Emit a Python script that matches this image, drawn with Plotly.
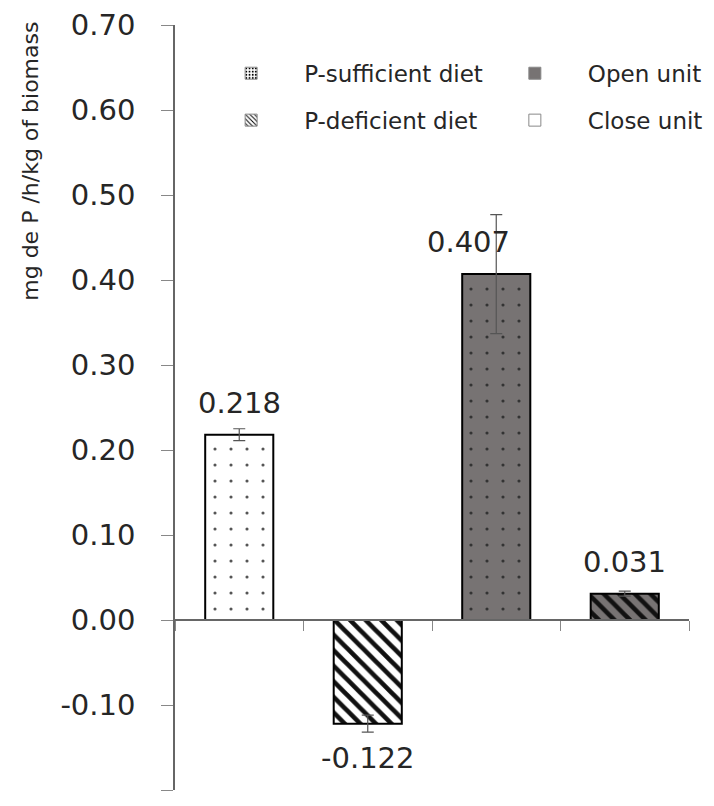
import plotly.graph_objects as go

categories = ["Close unit / P-sufficient", "Close unit / P-deficient",
              "Open unit / P-sufficient", "Open unit / P-deficient"]
values = [0.218, -0.122, 0.407, 0.031]
errors = [0.007, 0.010, 0.070, 0.003]
label_text = ["0.218", "-0.122", "0.407", "0.031"]
label_dx = [0, 0, -28, 0]
y_ticks = [-0.20, -0.10, 0.00, 0.10, 0.20, 0.30, 0.40, 0.50, 0.60, 0.70]
y_tick_text = ["-0.20", "-0.10", "0.00", "0.10", "0.20", "0.30", "0.40", "0.50", "0.60", "0.70"]

GRAY = "#777373"
FONT = "DejaVu Sans"
TXT = "#262626"

fills = ["white", "white", GRAY, GRAY]
shapes = [".", "\\", ".", "\\"]
fgs = ["#555555", "#111111", "#333333", "#111111"]
sizes = [16, 11, 16, 11]
solid = [0.030, 0.42, 0.031, 0.421]

fig = go.Figure()
for c, v, e, f, fg, shp, sz, so in zip(categories, values, errors, fills, fgs, shapes, sizes, solid):
    fig.add_trace(go.Bar(
        x=[c], y=[v], width=0.53,
        marker=dict(color=f, line=dict(color="black", width=2),
                    pattern=dict(shape=shp, fgcolor=fg, bgcolor=f, fgopacity=1,
                                 size=sz, solidity=so, fillmode="replace")),
        error_y=dict(type="data", array=[e], color="#555555", thickness=1.2, width=6),
        showlegend=False,
    ))

# legend entries
leg1 = [("P-sufficient diet", "white", "."), ("P-deficient diet", "white", "\\")]
leg2 = [("Open unit", GRAY, ""), ("Close unit", "white", "")]
for name, col, shp in leg1:
    fig.add_trace(go.Bar(x=[None], y=[None], name=name, legend="legend", legendgroup=name,
                         marker=dict(color=col, line=dict(color="#888", width=1),
                                     pattern=dict(shape=shp, fgcolor="black", bgcolor=col,
                                                  fgopacity=1, size=4, solidity=0.3,
                                                  fillmode="replace"))))
for name, col, shp in leg2:
    fig.add_trace(go.Bar(x=[None], y=[None], name=name, legend="legend2", legendgroup=name,
                         marker=dict(color=col, line=dict(color="#888", width=1))))

for c, v, t, dx in zip(categories, values, label_text, label_dx):
    fig.add_annotation(x=c, y=v, text=t, showarrow=False, xshift=dx,
                       yshift=32 if v > 0 else -34,
                       font=dict(family=FONT, size=29, color=TXT))

fig.add_annotation(xref="paper", yref="paper", x=-0.281, y=0.822,
                   xanchor="center", yanchor="middle",
                   text="mg de P /h/kg of biomass", textangle=-90, showarrow=False,
                   font=dict(family=FONT, size=22, color=TXT))

legend_common = dict(yanchor="top", bgcolor="rgba(0,0,0,0)", tracegroupgap=14,
                     itemwidth=96, font=dict(family=FONT, size=23, color=TXT))

fig.update_layout(
    width=714, height=806,
    margin=dict(l=175, r=25, t=25, b=16, autoexpand=False),
    paper_bgcolor="white", plot_bgcolor="white",
    font=dict(family=FONT, color=TXT),
    legend=dict(x=0.045, y=0.965, xanchor="left", **legend_common),
    legend2=dict(x=0.597, y=0.965, xanchor="left", **legend_common),
    xaxis=dict(type="category", categoryorder="array", categoryarray=categories,
               range=[-0.5, 3.5], anchor="free", position=0.2222,
               showline=True, linecolor="#666", linewidth=1.5,
               ticks="outside", tickson="boundaries", ticklen=10, tickcolor="#888",
               showticklabels=False, showgrid=False, zeroline=False, automargin=False),
    yaxis=dict(range=[-0.2, 0.7], tickvals=y_ticks, ticktext=y_tick_text,
               showline=True, linecolor="#666", linewidth=1.5,
               ticks="outside", ticklen=12, tickcolor="#888", ticklabelstandoff=20,
               tickfont=dict(family=FONT, size=29, color=TXT),
               showgrid=False, zeroline=False, automargin=False),
    barmode="overlay",
)

fig.write_html("out.html", config={"displayModeBar": False},
               post_script="document.body.style.margin='0';")
